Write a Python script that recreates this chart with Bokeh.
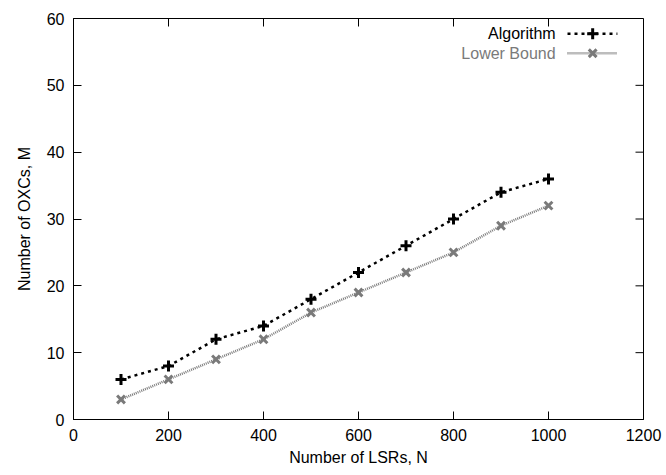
import math
from bokeh.plotting import figure
from bokeh.models import Range1d, FixedTicker, Label, ColumnDataSource, Title
from bokeh.embed import file_html
from bokeh.resources import INLINE

# data
n_lsrs = [100, 200, 300, 400, 500, 600, 700, 800, 900, 1000]
algorithm = [6, 8, 12, 14, 18, 22, 26, 30, 34, 36]
lower_bound = [3, 6, 9, 12, 16, 19, 22, 25, 29, 32]
x_ticks = [0, 200, 400, 600, 800, 1000, 1200]
y_ticks = [0, 10, 20, 30, 40, 50, 60]
series_names = ["Algorithm", "Lower Bound"]
x_title = "Number of LSRs, N"
y_title = "Number of OXCs, M"

FONT = "Liberation Sans"
GREY = "#7a7a7a"
XMAX, YMAX = 1200, 60

p = figure(width=666, height=475, output_backend="svg", toolbar_location=None,
           x_range=Range1d(0, XMAX), y_range=Range1d(0, YMAX),
           min_border_left=73, min_border_right=23, min_border_top=18, min_border_bottom=56)
p.xgrid.visible = False
p.ygrid.visible = False
p.outline_line_color = "black"
p.outline_line_width = 1
p.background_fill_color = "white"
p.border_fill_color = "white"

for ax, ticks in ((p.xaxis[0], x_ticks), (p.yaxis[0], y_ticks)):
    ax.ticker = FixedTicker(ticks=ticks)
    ax.major_tick_in = 8
    ax.major_tick_out = 0
    ax.minor_tick_in = 0
    ax.minor_tick_out = 0
    ax.major_label_text_font = FONT
    ax.major_label_text_font_size = "16px"
    ax.major_label_text_color = "black"
    ax.axis_line_color = "black"
    ax.major_tick_line_color = "black"
p.xaxis.major_label_standoff = 9
p.yaxis.major_label_standoff = 9

# mirrored ticks on top and right (gnuplot style)
p.ray(x=x_ticks, y=[YMAX] * len(x_ticks), length=8, length_units="screen",
      angle=-math.pi / 2, line_color="black", line_width=1)
p.ray(x=[XMAX] * len(y_ticks), y=y_ticks, length=8, length_units="screen",
      angle=math.pi, line_color="black", line_width=1)

# axis titles as side-panel titles
p.add_layout(Title(text=x_title, align="center", standoff=7,
                   text_font=FONT, text_font_size="16px", text_font_style="normal",
                   text_color="black"), "below")
p.add_layout(Title(text=y_title, align="center", standoff=22,
                   text_font=FONT, text_font_size="16px", text_font_style="normal",
                   text_color="black"), "left")

src = ColumnDataSource(dict(x=n_lsrs, a=algorithm, b=lower_bound))
p.line("x", "b", source=src, line_color=GREY, line_width=2.5, line_dash="1 1")
p.scatter("x", "b", source=src, marker="x", size=11, line_color=GREY, line_width=3)
p.line("x", "a", source=src, line_color="black", line_width=2.5, line_dash="3 4")
p.scatter("x", "a", source=src, marker="cross", size=11, line_color="black", line_width=3)

# legend (gnuplot style: text then sample)
p.add_layout(Label(x=1015, y=57.7, text=series_names[0], text_align="right",
                   text_baseline="middle", text_font=FONT, text_font_size="16px",
                   text_color="black"))
p.add_layout(Label(x=1015, y=54.8, text=series_names[1], text_align="right",
                   text_baseline="middle", text_font=FONT, text_font_size="16px",
                   text_color=GREY))
leg = ColumnDataSource(dict(x0=[1040], x1=[1145], xm=[1093], ya=[57.7], yb=[54.8]))
p.segment("x0", "ya", "x1", "ya", source=leg, line_color="black", line_width=2.5, line_dash="3 4")
p.scatter("xm", "ya", source=leg, marker="cross", size=11, line_color="black", line_width=3)
p.segment("x0", "yb", "x1", "yb", source=leg, line_color=GREY, line_width=2.5, line_dash="1 1")
p.scatter("xm", "yb", source=leg, marker="x", size=11, line_color=GREY, line_width=3)

open("out.html", "w").write(file_html(p, INLINE))
